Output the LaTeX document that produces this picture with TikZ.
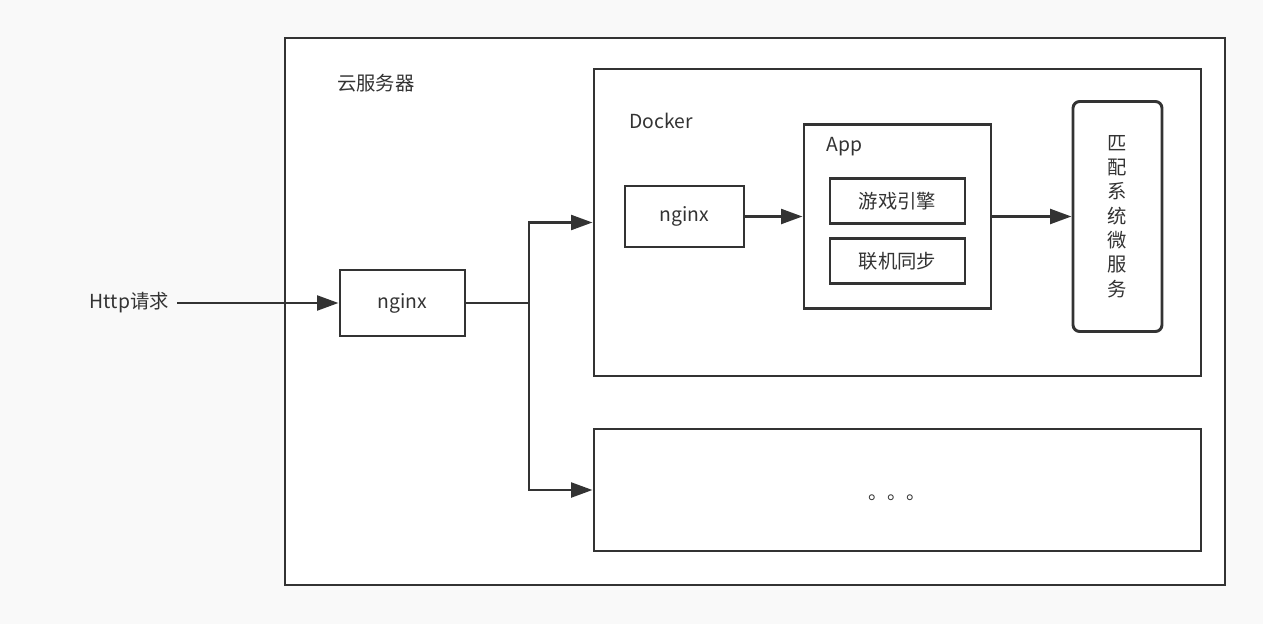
\documentclass[tikz,border=0pt]{standalone}
\usepackage{fontspec}
\setmainfont{Noto Sans CJK SC}
\usetikzlibrary{arrows.meta}
\definecolor{lc}{HTML}{333333}
\definecolor{bg}{HTML}{F9F9F9}
\begin{document}
\begin{tikzpicture}[x=0.75pt,y=-0.75pt,
  box/.style={draw=lc, line width=2.2pt, fill=white, inner sep=0pt},
  lbl/.style={text=lc, font=\fontsize{14.5}{17}\selectfont, inner sep=0pt},
  wire/.style={draw=lc, line width=2.2pt},
  conn/.style={draw=lc, line width=2.2pt, -{Triangle[length=16pt,width=11pt]}}]
\fill[bg] (0,0) rectangle (1263,624);
\useasboundingbox (0,0) rectangle (1263,624);
% outer server box
\node[box, minimum width=940*0.75pt, minimum height=547*0.75pt] (server) at (755,311.5) {};
\node[lbl, anchor=west] (serverlbl) at (337,83) {云服务器};
% docker box
\node[box, minimum width=607*0.75pt, minimum height=307*0.75pt] (docker) at (897.5,222.5) {};
\node[lbl, anchor=west] (dockerlbl) at (629,121) {Docker};
% inner nginx
\node[box, lbl, draw=lc, line width=2.2pt, fill=white, minimum width=119*0.75pt, minimum height=61*0.75pt] (nginxin) at (684.5,216.5) {nginx};
% app box
\node[box, minimum width=187*0.75pt, minimum height=184*0.75pt] (app) at (897.5,216.5) {};
\node[lbl, anchor=west] (applbl) at (826,147) {App};
\node[box, lbl, draw=lc, line width=2.2pt, fill=white, minimum width=135*0.75pt, minimum height=45*0.75pt] (engine) at (897.5,201) {游戏引擎};
\node[box, lbl, draw=lc, line width=2.2pt, fill=white, minimum width=135*0.75pt, minimum height=45*0.75pt] (sync) at (897.5,261) {联机同步};
% match service
\node[box, lbl, draw=lc, line width=2.2pt, fill=white, rounded corners=5pt, align=center,
  font=\fontsize{14.5}{18.2}\selectfont, minimum width=89*0.75pt, minimum height=230*0.75pt] (match) at (1117.5,216.5)
  {匹\\配\\系\\统\\微\\服\\务};
% more box
\node[box, minimum width=607*0.75pt, minimum height=122*0.75pt] (more) at (897.5,490) {};
\node[lbl] (dots) at (897,498) {。。。};
% outer nginx
\node[box, lbl, draw=lc, line width=2.2pt, fill=white, minimum width=125*0.75pt, minimum height=66*0.75pt] (nginxout) at (402.5,303) {nginx};
% http label
\node[lbl, anchor=east] (http) at (169,303) {Http请求};
% connectors
\coordinate (j) at (529,303);
\draw[conn, shorten <=6pt] (http.east) -- (nginxout.west);
\draw[wire] (nginxout.east) -- (j);
\draw[conn] (j) |- (docker.west);
\draw[conn] (j) |- (more.west);
\draw[conn] (nginxin.east) -- (app.west);
\draw[conn] (app.east) -- (match.west);
\end{tikzpicture}
\end{document}
